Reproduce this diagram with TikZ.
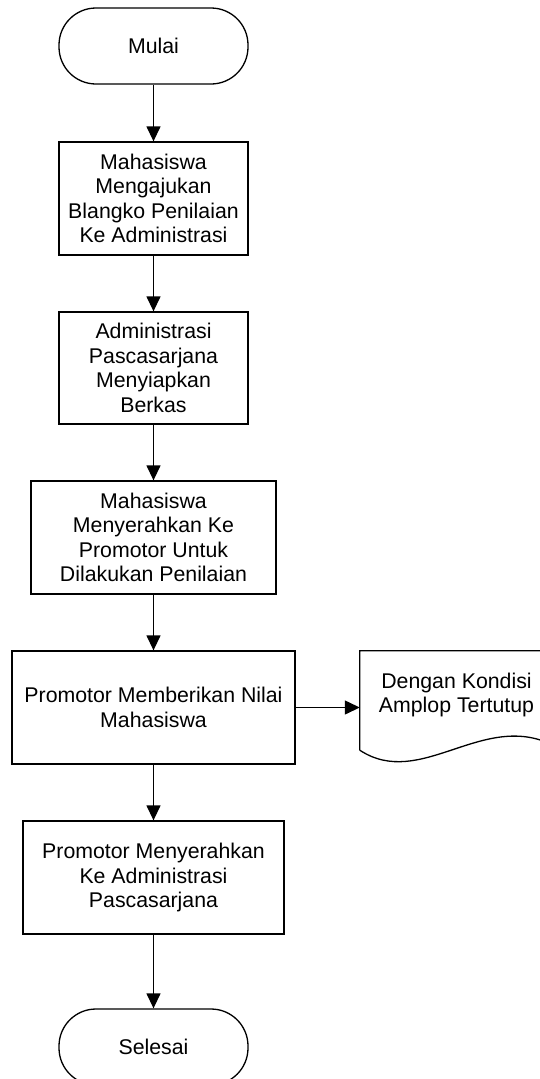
\documentclass[tikz,border=0pt]{standalone}
\usepackage{fontspec}
\setmainfont{Liberation Sans}
\usetikzlibrary{arrows.meta,calc}
\begin{document}
\begin{tikzpicture}[x=1pt,y=1pt,
  every node/.style={font=\fontsize{21.3}{24.5}\selectfont, align=center, inner sep=0pt},
  proc/.style={draw, line width=1.3pt, minimum height=113pt},
  term/.style={draw, line width=1.3pt, rounded corners=37pt, minimum width=189pt, minimum height=76pt},
  flow/.style={line width=1.3pt, -{Triangle[length=15pt,width=14pt]}},
  outline/.style={line width=1.3pt}]
\useasboundingbox (0,0) rectangle (540,-1079);
\node[term] (start) at (153.5,-46) {Mulai};
\node[proc, minimum width=189pt] (b1) at (153.5,-198.5) {Mahasiswa\\Mengajukan\\Blangko Penilaian\\Ke Administrasi};
\node[proc, minimum width=189pt, minimum height=112pt] (b2) at (153.5,-368) {Administrasi\\Pascasarjana\\Menyiapkan\\Berkas};
\node[proc, minimum width=245pt] (b3) at (153.5,-537.5) {Mahasiswa\\Menyerahkan Ke\\Promotor Untuk\\Dilakukan Penilaian};
\node[proc, minimum width=283pt] (b4) at (153.5,-707.5) {Promotor Memberikan Nilai\\Mahasiswa};
\node[proc, minimum width=261pt] (b5) at (153.5,-877.5) {Promotor Menyerahkan\\Ke Administrasi\\Pascasarjana};
\node[term] (end) at (153.5,-1047) {Selesai};
% document shape
\node[minimum width=193pt, minimum height=99pt] (doc) at (456.5,-700.5) {};
\node (doctext) at (456.5,-695) {Dengan Kondisi\\Amplop Tertutup};
\draw[outline] (doc.south west) -- (doc.north west) -- (doc.north east) -- ($(doc.south east)+(0,5)$)
  .. controls ($(doc.south west)+(123,40)$) and ($(doc.south west)+(61,-40)$) .. (doc.south west);
% connectors
\draw[flow] (start) -- (b1);
\draw[flow] (b1) -- (b2);
\draw[flow] (b2) -- (b3);
\draw[flow] (b3) -- (b4);
\draw[flow] (b4) -- (b5);
\draw[flow] (b5) -- (end);
\draw[flow] (b4.east) -- (b4.east -| doc.west);
\end{tikzpicture}
\end{document}
